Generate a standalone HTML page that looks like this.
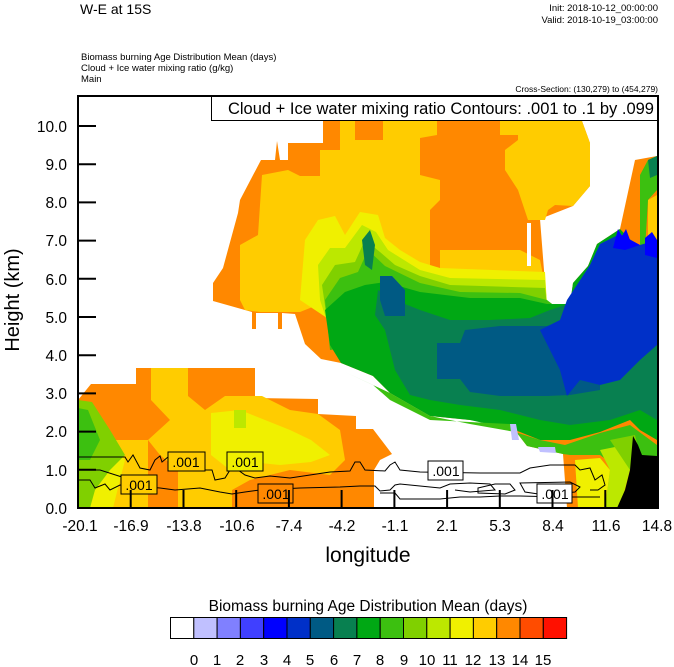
<!DOCTYPE html>
<html><head><meta charset="utf-8"><style>
html,body{margin:0;padding:0;background:#fff;}
svg{display:block;font-family:"Liberation Sans",Arial,sans-serif;}
</style></head><body>
<svg width="674" height="667" viewBox="0 0 674 667" xmlns="http://www.w3.org/2000/svg">
<rect width="674" height="667" fill="#fff"/>
<text x="80" y="14" font-size="14">W-E at 15S</text>
<text x="658" y="11" font-size="9.5" text-anchor="end">Init: 2018-10-12_00:00:00</text>
<text x="658" y="23" font-size="9.5" text-anchor="end">Valid: 2018-10-19_03:00:00</text>
<text x="81" y="60" font-size="9.5">Biomass burning Age Distribution Mean    (days)</text>
<text x="81" y="71" font-size="9.5">Cloud + Ice water mixing ratio    (g/kg)</text>
<text x="81" y="82" font-size="9.5">Main</text>
<text x="658" y="92" font-size="8.5" text-anchor="end">Cross-Section: (130,279) to (454,279)</text>

<defs><clipPath id="c"><rect x="78" y="96" width="580" height="412"/></clipPath></defs>
<g clip-path="url(#c)">
<path fill="#ff8800" d="M323,121 L582,121 L590,143 L590,186 L573,206 L540,219 L545,283 L547,304 L570,304 L573,283 L588,266 L597,244 L620,229 L635,160 L657,156 L657,508 L567,508 L563,454 L527,446 L510,424 L430,416 L390,393 L373,376 L341,363 L321,359 L305,344 L295,314 L282,313 L282,329 L278,329 L278,313 L256,313 L256,329 L252,329 L252,312 L213,301 L213,283 L223,268 L238,213 L240,200 L261,160 L275,160 L277,141 L280,160 L288,160 L288,143 L323,143 Z"/>
<path fill="#ffcc00" d="M240,300 L240,245 L258,235 L262,175 L288,170 L300,176 L320,176 L320,150 L340,150 L340,121 L355,121 L355,140 L383,140 L383,121 L437,121 L437,135 L420,138 L420,175 L440,180 L440,200 L430,210 L430,280 L360,270 L330,300 L310,308 L300,312 L260,312 L245,310 Z"/>
<path fill="#ffcc00" d="M518,121 L582,121 L590,143 L590,186 L573,206 L555,205 L548,210 L545,220 L528,220 L518,190 L505,170 L505,150 L518,140 Z"/>
<path fill="#ffcc00" d="M500,121 L518,121 L518,135 L500,135 Z"/>
<path fill="#ffcc00" d="M440,250 L520,250 L540,260 L545,285 L440,290 Z"/>
<path fill="#ffcc00" d="M648,200 L657,195 L657,245 L648,240 Z"/>
<path fill="#3cc010" d="M640,175 L648,160 L657,156 L657,190 L648,200 L645,250 L640,250 Z"/>
<path fill="#088050" d="M648,160 L657,156 L657,175 L650,178 Z"/>
<!-- transition -->
<path fill="#f0f000" d="M305,240 L318,220 L335,216 L345,235 L360,212 L378,215 L385,238 L400,250 L420,262 L440,268 L545,272 L547,305 L330,320 L300,300 Z"/>
<path fill="#bce800" d="M318,265 L330,248 L345,248 L362,225 L376,232 L388,250 L420,270 L450,278 L545,280 L547,305 L330,330 L320,300 Z"/>
<path fill="#80d000" d="M322,285 L335,265 L355,262 L365,240 L380,252 L395,265 L420,276 L450,285 L545,288 L547,305 L400,330 L330,340 Z"/>
<path fill="#3cc010" d="M325,300 L340,278 L358,272 L368,250 L385,266 L420,283 L460,292 L520,293 L547,300 L560,310 L400,340 L330,350 Z"/>
<path fill="#00a814" d="M325,310 L345,292 L365,285 L385,282 L420,292 L470,298 L520,298 L547,304 L570,304 L573,283 L588,266 L597,244 L620,229 L640,250 L657,250 L657,440 L640,430 L630,420 L600,432 L570,440 L540,440 L515,430 L470,420 L430,416 L390,393 L373,376 L341,363 L330,345 Z"/>
<path fill="#3cc010" d="M345,372 L390,393 L430,416 L470,424 L515,432 L540,440 L565,445 L600,433 L630,425 L657,445 L657,460 L620,470 L600,455 L570,455 L563,454 L527,446 L510,424 L430,420 L390,400 L373,385 Z"/>
<path fill="#088050" d="M378,290 L395,300 L420,310 L450,320 L490,320 L530,318 L550,310 L580,300 L600,290 L620,270 L640,265 L657,262 L657,420 L640,410 L610,420 L570,425 L540,420 L500,410 L460,405 L430,400 L410,395 L395,370 L385,330 L375,315 Z"/>
<path fill="#088050" d="M362,240 L370,230 L375,245 L372,270 L365,265 Z"/>
<path fill="#005a84" d="M380,276 L392,276 L405,290 L405,316 L385,316 L380,300 Z"/>
<path fill="#005a84" d="M437,343 L460,343 L465,330 L500,326 L547,326 L567,320 L600,310 L600,390 L570,395 L547,396 L500,396 L470,392 L460,379 L437,379 Z"/>
<path fill="#0030c8" d="M567,300 L590,265 L600,244 L620,234 L640,245 L657,240 L657,345 L640,360 L620,380 L600,385 L580,380 L567,396 L560,370 L540,330 L560,320 Z"/>
<path fill="#0000ff" d="M613,248 L618,229 L622,236 L626,229 L630,240 L640,245 L625,250 Z"/>
<path fill="#0000ff" d="M645,238 L652,232 L657,240 L657,258 L645,255 Z"/>
<path fill="#fff" d="M527,223 L531,223 L531,266 L527,266 Z"/>
<path fill="#c0c0ff" d="M510,424 L516,424 L519,440 L512,440 Z"/>
<path fill="#c0c0ff" d="M538,447 L555,447 L556,453 L540,452 Z"/>

<path fill="#ff8800" d="M78,400 L91,384 L136,384 L136,368 L255,368 L255,398 L318,399 L318,414 L356,416 L356,429 L373,429 L392,454 L380,460 L374,470 L374,508 L78,508 Z"/>
<path fill="#ffcc00" d="M151,368 L188,368 L188,396 L205,410 L225,396 L262,396 L290,410 L318,414 L340,430 L345,460 L330,475 L290,470 L250,480 L232,490 L232,508 L178,508 L178,470 L160,455 L148,440 L170,420 L151,400 Z"/>
<path fill="#ffcc00" d="M110,440 L148,440 L148,508 L110,508 Z"/>
<path fill="#f0f000" d="M211,413 L240,410 L260,418 L290,430 L311,440 L330,455 L311,462 L280,465 L250,462 L230,470 L211,455 Z"/>
<path fill="#bce800" d="M234,410 L246,410 L246,428 L234,428 Z"/>
<path fill="#f0f000" d="M88,430 L110,440 L125,460 L120,480 L113,508 L88,508 Z"/>
<path fill="#80d000" d="M78,400 L92,402 L110,430 L125,455 L110,470 L95,490 L90,508 L78,508 Z"/>
<path fill="#3cc010" d="M78,408 L88,410 L100,440 L90,460 L78,460 Z"/>
<path fill="#f0f000" d="M575,460 L600,458 L610,470 L605,508 L578,508 Z"/>
<path fill="#bce800" d="M600,450 L625,445 L630,470 L620,508 L605,508 L610,470 Z"/>
<path fill="#80d000" d="M610,440 L635,435 L640,455 L630,470 L620,455 Z"/>
<path fill="#000" d="M617,508 L625,490 L630,470 L633,436 L638,445 L642,455 L657,456 L657,508 Z"/>

<g fill="none" stroke="#000" stroke-width="1">
<path d="M78,457 L125,457 L128,462 L133,455 L140,468 L150,470 L155,460 L160,456 L162,462 L168,457 L200,460 L205,470 L212,470 L215,480 L225,478 L230,470 L238,470 L245,475 L255,478 L270,476 L290,478 L310,475 L330,472 L350,471 L355,462 L360,462 L365,470 L385,471 L390,465 L395,462 L400,470 L420,472 L480,473 L520,473 L530,468 L550,465 L575,465 L580,470 L590,468 L595,480 L602,475 L605,485 L598,490 L590,490"/>
<path d="M78,480 L90,480 L95,488 L105,484 L110,490 L120,485 L160,488 L175,490 L200,488 L220,492 L232,494 L245,492 L260,490 L300,488 L340,487 L360,486 L375,486 L380,491 L390,490 L395,485 L400,484 L420,486 L440,488 L450,484 L470,483 L490,484 L495,490 L470,492 L455,490"/>
<path d="M78,470 L100,470 L125,478 M78,470 L78,490"/>
<path d="M380,493 L395,493 L400,499 L440,499 L460,497 L480,497 L500,496 L520,496 L560,497 L600,497"/>
<path d="M478,488 L495,484 L510,484 L515,490 L505,494 L478,493 Z"/>
<path d="M520,483 L570,482 L580,487 L575,492 L545,495 L525,492 Z"/>
</g>
<g font-size="14" text-anchor="middle">
<rect x="168" y="452" width="37" height="19" fill="#ffcc00" stroke="#000"/><text x="186" y="467">.001</text>
<rect x="227" y="452" width="36" height="19" fill="#f0f000" stroke="#000"/><text x="245" y="467">.001</text>
<rect x="121" y="475" width="36" height="19" fill="#ffcc00" stroke="#000"/><text x="139" y="490">.001</text>
<rect x="258" y="484" width="35" height="19" fill="#ff8800" stroke="#000"/><text x="276" y="499">.001</text>
<rect x="428" y="461" width="35" height="19" fill="#fff" stroke="#000"/><text x="446" y="476">.001</text>
<rect x="537" y="484" width="35" height="19" fill="#fff" stroke="#000"/><text x="555" y="499">.001</text>
</g>
</g>

<rect x="211.5" y="96.5" width="446" height="24" fill="#fff" stroke="#000"/>
<text x="654" y="114" font-size="16.5" text-anchor="end">Cloud + Ice water mixing ratio Contours: .001 to .1 by .099</text>

<rect x="78" y="96" width="580" height="412" fill="none" stroke="#000" stroke-width="2"/>
<g stroke="#000" stroke-width="2">
<line x1="78" y1="126" x2="96" y2="126"/><line x1="78" y1="164.2" x2="96" y2="164.2"/><line x1="78" y1="202.4" x2="96" y2="202.4"/>
<line x1="78" y1="240.6" x2="96" y2="240.6"/><line x1="78" y1="278.8" x2="96" y2="278.8"/><line x1="78" y1="317" x2="96" y2="317"/>
<line x1="78" y1="355.2" x2="96" y2="355.2"/><line x1="78" y1="393.4" x2="96" y2="393.4"/><line x1="78" y1="431.6" x2="96" y2="431.6"/>
<line x1="78" y1="469.8" x2="96" y2="469.8"/>
<line x1="130.7" y1="508" x2="130.7" y2="490"/><line x1="183.5" y1="508" x2="183.5" y2="490"/><line x1="236.2" y1="508" x2="236.2" y2="490"/>
<line x1="288.9" y1="508" x2="288.9" y2="490"/><line x1="341.6" y1="508" x2="341.6" y2="490"/><line x1="394.4" y1="508" x2="394.4" y2="490"/>
<line x1="447.1" y1="508" x2="447.1" y2="490"/><line x1="499.8" y1="508" x2="499.8" y2="490"/><line x1="552.5" y1="508" x2="552.5" y2="490"/>
<line x1="605.3" y1="508" x2="605.3" y2="490"/>
</g>
<g font-size="15.5" text-anchor="end">
<text x="67" y="132">10.0</text><text x="67" y="170">9.0</text><text x="67" y="208">8.0</text><text x="67" y="246">7.0</text>
<text x="67" y="285">6.0</text><text x="67" y="323">5.0</text><text x="67" y="361">4.0</text><text x="67" y="399">3.0</text>
<text x="67" y="437">2.0</text><text x="67" y="476">1.0</text><text x="67" y="514">0.0</text>
</g>
<g font-size="15.5" text-anchor="middle">
<text x="80" y="531">-20.1</text><text x="131" y="531">-16.9</text><text x="184" y="531">-13.8</text><text x="237" y="531">-10.6</text>
<text x="289" y="531">-7.4</text><text x="342" y="531">-4.2</text><text x="395" y="531">-1.1</text><text x="447" y="531">2.1</text>
<text x="500" y="531">5.3</text><text x="553" y="531">8.4</text><text x="606" y="531">11.6</text><text x="657" y="531">14.8</text>
</g>
<text x="368" y="562" font-size="21" text-anchor="middle">longitude</text>
<text transform="translate(19,300) rotate(-90)" font-size="20" text-anchor="middle">Height (km)</text>

<text x="368" y="611" font-size="15.5" text-anchor="middle">Biomass burning Age Distribution Mean  (days)</text>
<g stroke="#000" stroke-width="1">
<rect x="170.5" y="617.5" width="23.3" height="21" fill="#ffffff"/>
<rect x="193.8" y="617.5" width="23.3" height="21" fill="#c0c0ff"/>
<rect x="217.1" y="617.5" width="23.3" height="21" fill="#8080ff"/>
<rect x="240.4" y="617.5" width="23.3" height="21" fill="#4040ff"/>
<rect x="263.7" y="617.5" width="23.3" height="21" fill="#0000ff"/>
<rect x="287" y="617.5" width="23.3" height="21" fill="#0030c8"/>
<rect x="310.3" y="617.5" width="23.3" height="21" fill="#005a84"/>
<rect x="333.6" y="617.5" width="23.3" height="21" fill="#088050"/>
<rect x="356.9" y="617.5" width="23.3" height="21" fill="#00a814"/>
<rect x="380.2" y="617.5" width="23.3" height="21" fill="#3cc010"/>
<rect x="403.5" y="617.5" width="23.3" height="21" fill="#80d000"/>
<rect x="426.8" y="617.5" width="23.3" height="21" fill="#bce800"/>
<rect x="450.1" y="617.5" width="23.3" height="21" fill="#f0f000"/>
<rect x="473.4" y="617.5" width="23.3" height="21" fill="#ffcc00"/>
<rect x="496.7" y="617.5" width="23.3" height="21" fill="#ff8800"/>
<rect x="520" y="617.5" width="23.3" height="21" fill="#ff4c00"/>
<rect x="543.3" y="617.5" width="23.3" height="21" fill="#ff1000"/>
</g>
<g font-size="15" text-anchor="middle">
<text x="194" y="665">0</text><text x="217" y="665">1</text><text x="240" y="665">2</text><text x="264" y="665">3</text>
<text x="287" y="665">4</text><text x="310" y="665">5</text><text x="334" y="665">6</text><text x="357" y="665">7</text>
<text x="380" y="665">8</text><text x="404" y="665">9</text><text x="427" y="665">10</text><text x="450" y="665">11</text>
<text x="473" y="665">12</text><text x="497" y="665">13</text><text x="520" y="665">14</text><text x="543" y="665">15</text>
</g>
</svg>
</body></html>
